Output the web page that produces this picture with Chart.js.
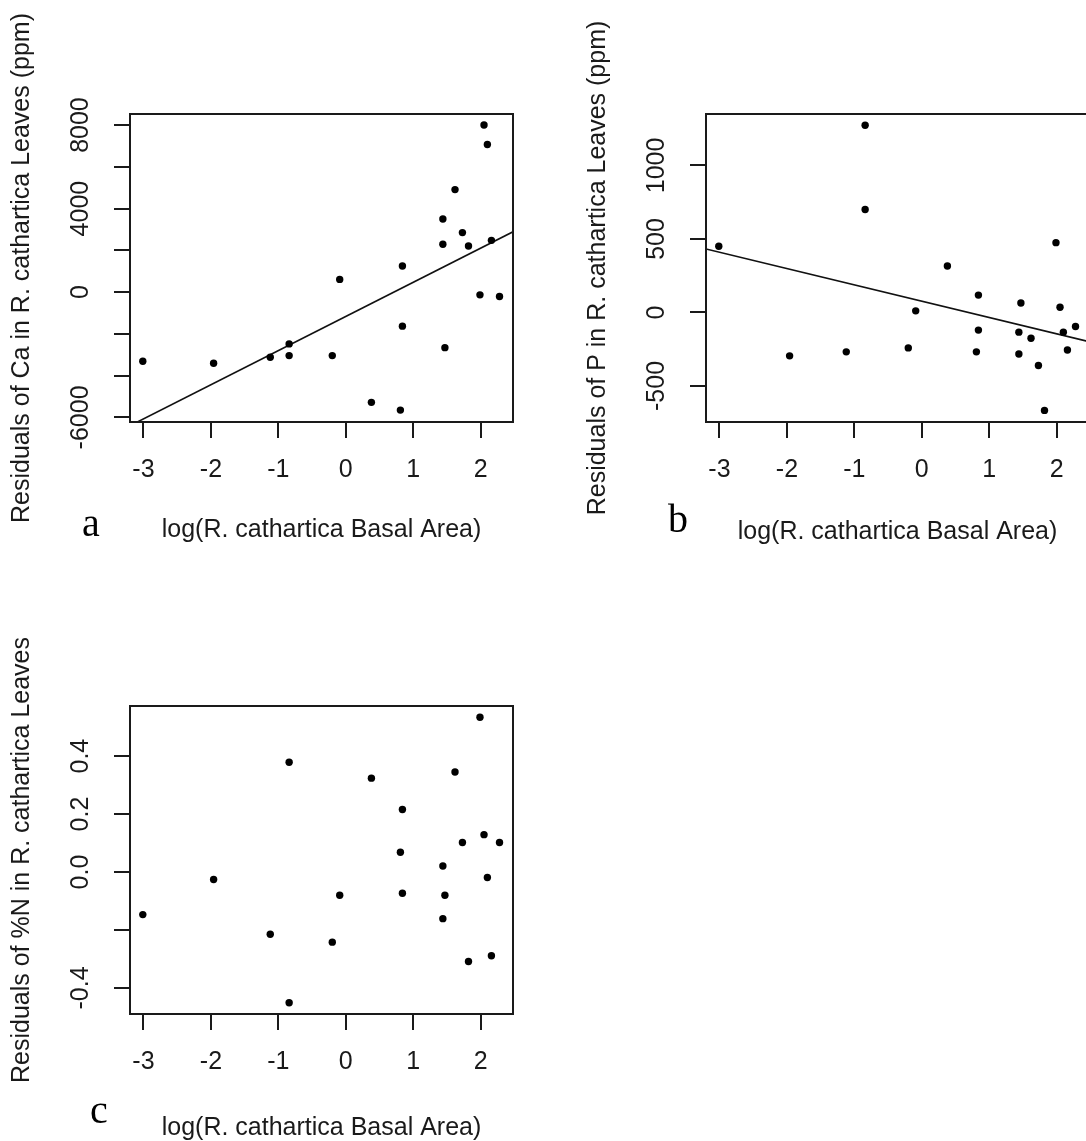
<!DOCTYPE html>
<html lang="en">
<head>
<meta charset="UTF-8">
<title>Residuals vs log(R. cathartica Basal Area)</title>
<script src="https://cdn.jsdelivr.net/npm/chart.js@4.4.0/dist/chart.umd.min.js"></script>
<style>
    html, body {
        margin: 0;
        padding: 0;
        background: #fff;
        overflow: hidden;
    }
    .page {
        position: relative;
        width: 1086px;
        height: 1141px;
        overflow: hidden;
    }
    .panel {
        position: absolute;
        width: 560px;
        height: 560px;
    }
</style>
</head>
<body>
<div class="page">
    <div class="panel" style="left:0;top:0"><canvas id="chartCa" width="560" height="560"></canvas></div>
    <div class="panel" style="left:576px;top:0"><canvas id="chartP" width="560" height="560"></canvas></div>
    <div class="panel" style="left:0;top:592px"><canvas id="chartN" width="560" height="560"></canvas></div>
</div>

<script>
// log basal area of R. cathartica per plot (shared x for all three panels)
const logBasalArea = [-3.01, -1.96, -1.12, -0.84, -0.84, -0.20, -0.09, 0.38, 0.81, 0.84, 0.84,
                      1.44, 1.44, 1.47, 1.62, 1.73, 1.82, 1.99, 2.05, 2.10, 2.16, 2.28];

// residuals of leaf nutrients, same order as logBasalArea
const residCa = [-3310, -3410, -3120, -2480, -3040, -3040, 610, -5280, -5650, 1250, -1630,
                 3500, 2290, -2660, 4910, 2850, 2210, -130, 8000, 7070, 2480, -210];
const residP = [450, -295, -268, 1273, 700, -241, 11, 316, -268, 118, -120,
                -134, -282, 64, -175, -361, -666, 475, 36, -134, -255, -95];
const residN = [-0.147, -0.026, -0.215, 0.379, -0.451, -0.242, -0.080, 0.324, 0.068, 0.216, -0.073,
                0.021, -0.161, -0.080, 0.345, 0.102, -0.309, 0.534, 0.129, -0.019, -0.289, 0.102];

// fitted lines: [intercept, slope]
const fitCa = [-1166, 1635];
const fitP = [77, -111];

// axis ticks and which of them carry a label
const xTicks = [-3, -2, -1, 0, 1, 2];
const yTicksCa = [-6000, -4000, -2000, 0, 2000, 4000, 6000, 8000];
const yLabelsCa = [-6000, 0, 4000, 8000];
const yTicksP = [-500, 0, 500, 1000];
const yLabelsP = [-500, 0, 500, 1000];
const yTicksN = [-0.4, -0.2, 0, 0.2, 0.4];
const yLabelsN = [-0.4, 0, 0.2, 0.4];

const X_MIN = -3.2, X_MAX = 2.48;
const INK = '#1a1a1a';
const SANS = "'Liberation Sans', Arial, sans-serif";
const FONT_SIZE = 25;

// box, rotated y labels and panel letter, R style
const rFrame = {
    id: 'rFrame',
    afterDraw(chart, args, opts) {
        const {ctx, chartArea: a} = chart;
        const y = chart.scales.y;
        ctx.save();
        ctx.strokeStyle = INK;
        ctx.lineWidth = 2;
        ctx.strokeRect(a.left, a.top, a.right - a.left, a.bottom - a.top);

        ctx.fillStyle = INK;
        ctx.font = FONT_SIZE + 'px ' + SANS;
        ctx.textAlign = 'center';
        ctx.textBaseline = 'middle';
        opts.labels.forEach(v => {
            const py = y.getPixelForValue(v);
            ctx.save();
            ctx.translate(opts.labelX, py);
            ctx.rotate(-Math.PI / 2);
            ctx.fillText(v.toFixed(opts.decimals), 0, 0);
            ctx.restore();
        });

        ctx.fillStyle = '#000';
        ctx.font = "40px 'Liberation Serif', 'Times New Roman', serif";
        ctx.textAlign = 'left';
        ctx.textBaseline = 'alphabetic';
        ctx.fillText(opts.letter, opts.letterX, opts.letterY);
        ctx.restore();
    }
};

function residualChart(id, p) {
    const datasets = [{
        type: 'scatter',
        data: logBasalArea.map((x, i) => ({x: x, y: p.resid[i]})),
        pointRadius: 3.7,
        pointHoverRadius: 3.7,
        pointBackgroundColor: '#000',
        pointBorderWidth: 0
    }];
    if (p.fit) {
        const [b0, b1] = p.fit;
        datasets.push({
            type: 'line',
            data: [{x: X_MIN, y: b0 + b1 * X_MIN}, {x: X_MAX, y: b0 + b1 * X_MAX}],
            borderColor: '#111',
            borderWidth: 1.6,
            pointRadius: 0,
            fill: false
        });
    }

    return new Chart(document.getElementById(id), {
        data: {datasets: datasets},
        plugins: [rFrame],
        options: {
            responsive: false,
            animation: false,
            layout: {padding: {top: 114, right: 47, left: 0, bottom: 0}},
            plugins: {
                legend: {display: false},
                tooltip: {enabled: false},
                rFrame: {
                    labels: p.yLabels,
                    decimals: p.decimals,
                    labelX: 81,
                    letter: p.letter,
                    letterX: p.letterX,
                    letterY: p.letterY
                }
            },
            scales: {
                x: {
                    type: 'linear',
                    min: X_MIN,
                    max: X_MAX,
                    afterBuildTicks: s => { s.ticks = xTicks.map(v => ({value: v})); },
                    afterFit: s => { s.height = 138; },
                    grid: {drawOnChartArea: false, drawTicks: true, tickLength: 16, color: INK, lineWidth: 2},
                    border: {display: true, color: INK, width: 2},
                    ticks: {
                        autoSkip: false,
                        maxRotation: 0,
                        padding: 17,
                        color: INK,
                        font: {family: SANS, size: FONT_SIZE},
                        callback: v => String(v)
                    },
                    title: {
                        display: true,
                        text: 'log(R. cathartica Basal Area)',
                        color: INK,
                        font: {family: SANS, size: FONT_SIZE},
                        padding: {top: 0, bottom: p.xTitlePad}
                    }
                },
                y: {
                    type: 'linear',
                    min: p.yMin,
                    max: p.yMax,
                    afterBuildTicks: s => { s.ticks = p.yTicks.map(v => ({value: v})); },
                    afterFit: s => { s.width = 130; },
                    grid: {drawOnChartArea: false, drawTicks: true, tickLength: 16, color: INK, lineWidth: 2},
                    border: {display: true, color: INK, width: 2},
                    ticks: {display: false},
                    title: {
                        display: true,
                        text: p.yTitle,
                        color: INK,
                        font: {family: SANS, size: FONT_SIZE},
                        padding: {top: 7, bottom: 0}
                    }
                }
            }
        }
    });
}

residualChart('chartCa', {
    resid: residCa, fit: fitCa,
    yMin: -6220, yMax: 8530, yTicks: yTicksCa, yLabels: yLabelsCa, decimals: 0,
    yTitle: 'Residuals of Ca in R. cathartica Leaves (ppm)',
    letter: 'a', letterX: 82, letterY: 536, xTitlePad: 15
});

residualChart('chartP', {
    resid: residP, fit: fitP,
    yMin: -745, yMax: 1350, yTicks: yTicksP, yLabels: yLabelsP, decimals: 0,
    yTitle: 'Residuals of P in R. cathartica Leaves (ppm)',
    letter: 'b', letterX: 92, letterY: 532, xTitlePad: 13
});

residualChart('chartN', {
    resid: residN, fit: null,
    yMin: -0.49, yMax: 0.573, yTicks: yTicksN, yLabels: yLabelsN, decimals: 1,
    yTitle: 'Residuals of %N in R. cathartica Leaves',
    letter: 'c', letterX: 90, letterY: 531, xTitlePad: 9
});
</script>
</body>
</html>
